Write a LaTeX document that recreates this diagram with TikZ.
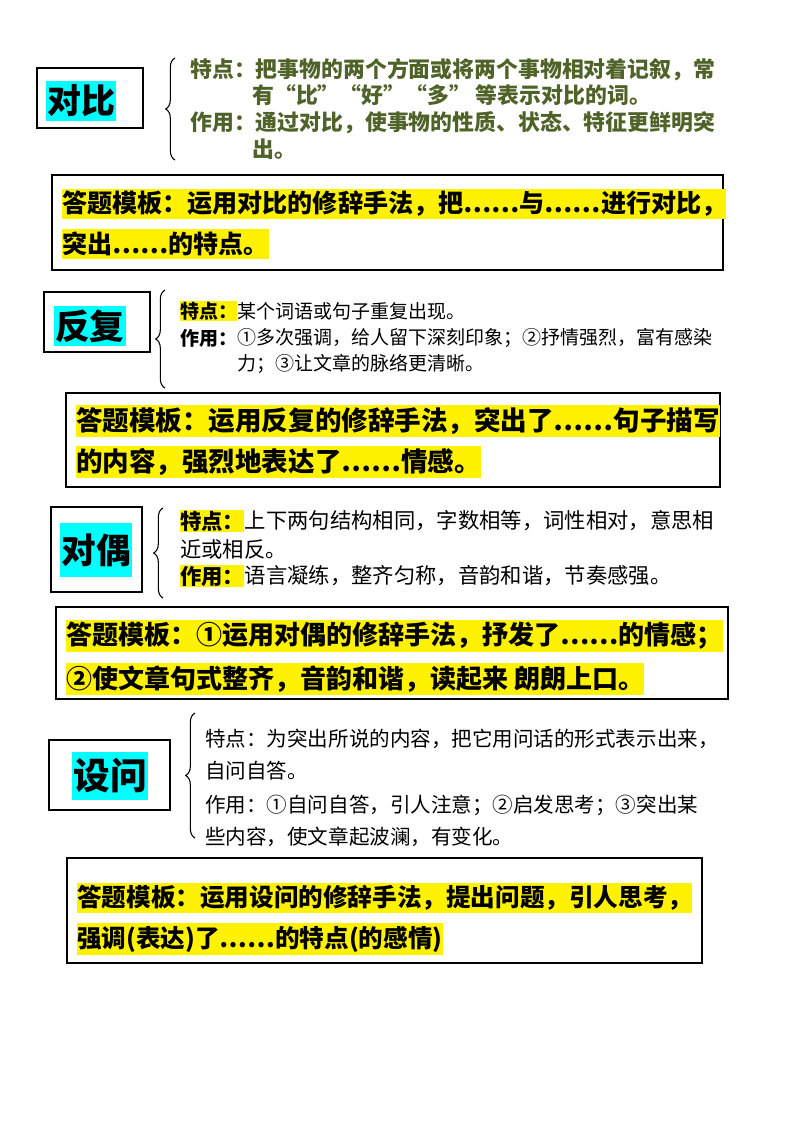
\documentclass[tikz,border=0pt]{standalone}
\usepackage{fontspec}
\setmainfont{Noto Sans CJK SC}
\usetikzlibrary{decorations.pathreplacing}
\definecolor{olive}{HTML}{4F6228}
\definecolor{cy}{HTML}{00FFFF}
\newcommand{\fs}[1]{\fontsize{#1}{#1}\selectfont}
\begin{document}
\begin{tikzpicture}[x=0.75pt,y=-0.75pt,
  tl/.style={anchor=west,inner sep=0pt},
  hl/.style={anchor=west,inner xsep=0pt,inner ysep=2pt,fill=yellow},
  frame/.style={draw=black,line width=1pt},
  ttl/.style={fill=cy,inner xsep=1pt,inner ysep=3pt,font=\bfseries},
  br/.style={decorate,decoration={brace,amplitude=7pt},line width=0.8pt}]
\useasboundingbox (0,0) rectangle (800,1132);
% 对比
\draw[frame] (37,68) rectangle (143,128);
\node[ttl,font=\bfseries\fs{25.5pt}] (t1) at (81,101) {对比};
\draw[br] (175,160) -- (175,58);
\begin{scope}[olive,font=\bfseries\fs{16.4pt}]
\node[tl] (a1) at (190,70) {特点：把事物的两个方面或将两个事物相对着记叙，常};
\node[tl] (a2) at (252,95) {有“比”“好”“多” 等表示对比的词。};
\node[tl] (a3) at (190,123) {作用：通过对比，使事物的性质、状态、特征更鲜明突};
\node[tl] (a4) at (252,149) {出。};
\end{scope}
\draw[frame] (52,175) rectangle (723,270);
\node[hl,font=\bfseries\fs{18.8pt}] (m1) at (62,204) {答题模板：运用对比的修辞手法，把……与……进行对比，};
\node[hl,font=\bfseries\fs{18.8pt}] (m2) at (62,244) {突出……的特点。};
% 反复
\draw[frame] (44,292) rectangle (150,352);
\node[ttl,font=\bfseries\fs{26pt}] (t2) at (90,326) {反复};
\draw[br] (165,388) -- (165,290);
\begin{scope}[font=\fs{14.25pt}]
\node[hl,font=\bfseries\fs{14.25pt},inner ysep=1pt] (b0) at (180,311) {特点：};
\node[tl] (b1) at (b0.east) [anchor=west] {某个词语或句子重复出现。};
\node[tl,font=\bfseries\fs{14.25pt}] (b2) at (180,338) {作用：};
\node[tl] (b3) at (b2.east) [anchor=west] {①多次强调，给人留下深刻印象；②抒情强烈，富有感染};
\node[tl] (b4) at (237,364) {力；③让文章的脉络更清晰。};
\end{scope}
\draw[frame] (66,393) rectangle (720,487);
\node[hl,font=\bfseries\fs{19.9pt}] (m3) at (76,421) {答题模板：运用反复的修辞手法，突出了……句子描写};
\node[hl,font=\bfseries\fs{19.9pt}] (m4) at (76,462) {的内容，强烈地表达了……情感。};
% 对偶
\draw[frame] (51,507) rectangle (142,592);
\node[ttl,font=\bfseries\fs{26pt},inner ysep=8pt] (t3) at (96,550) {对偶};
\draw[br] (163,598) -- (163,508);
\begin{scope}[font=\fs{16pt}]
\node[hl,font=\bfseries\fs{16pt},inner ysep=1pt] (c0) at (180,521) {特点：};
\node[tl] (c1) at (c0.east) [anchor=west] {上下两句结构相同，字数相等，词性相对，意思相};
\node[tl] (c2) at (180,549) {近或相反。};
\node[hl,font=\bfseries\fs{16pt},inner ysep=1pt] (c3) at (180,576) {作用：};
\node[tl] (c4) at (c3.east) [anchor=west] {语言凝练，整齐匀称，音韵和谐，节奏感强。};
\end{scope}
\draw[frame] (56,607) rectangle (728,699);
\node[hl,font=\bfseries\fs{19.5pt}] (m5) at (66,636) {答题模板：①运用对偶的修辞手法，抒发了……的情感；};
\node[hl,font=\bfseries\fs{19.5pt}] (m6) at (66,679) {②使文章句式整齐，音韵和谐，读起来 朗朗上口。};
% 设问
\draw[frame] (49,740) rectangle (170,810);
\node[ttl,font=\bfseries\fs{27.5pt},inner ysep=5pt] (t4) at (110,776) {设问};
\draw[br] (195,838) -- (195,713);
\begin{scope}[font=\fs{15.4pt}]
\node[tl] (d1) at (205,739) {特点：为突出所说的内容，把它用问话的形式表示出来，};
\node[tl] (d2) at (205,771) {自问自答。};
\node[tl] (d3) at (205,805) {作用：①自问自答，引人注意；②启发思考；③突出某};
\node[tl] (d4) at (205,837) {些内容，使文章起波澜，有变化。};
\end{scope}
\draw[frame] (67,858) rectangle (702,963);
\node[hl,font=\bfseries\fs{18.45pt}] (m7) at (77,898) {答题模板：运用设问的修辞手法，提出问题，引人思考，};
\node[hl,font=\bfseries\fs{18.45pt}] (m8) at (77,939) {强调(表达)了……的特点(的感情)};
\end{tikzpicture}
\end{document}
